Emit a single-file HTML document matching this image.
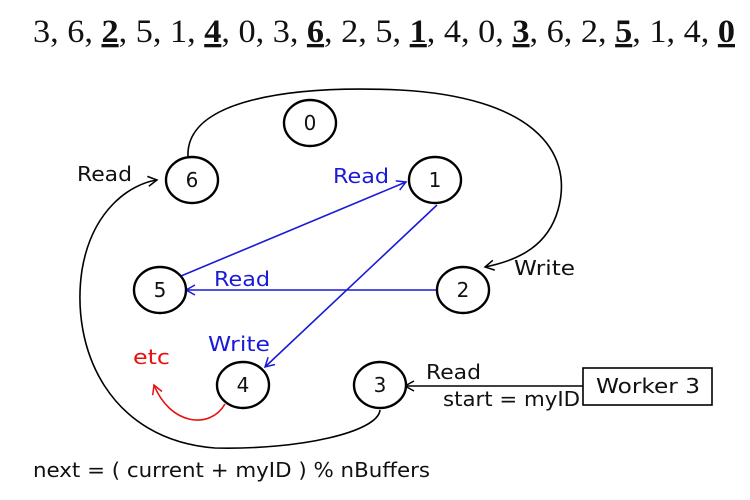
<!DOCTYPE html>
<html><head><style>body{margin:0;background:#fff}svg{display:block}</style></head><body>
<svg width="750" height="500" viewBox="0 0 750 500" xmlns="http://www.w3.org/2000/svg">
<rect width="750" height="500" fill="#fff"/>
<defs>
<marker id="ak" markerWidth="12" markerHeight="12" refX="10" refY="6" orient="auto" markerUnits="userSpaceOnUse"><path d="M1,1 L10,6 L1,11" fill="none" stroke="#000" stroke-width="1.5"/></marker>
<marker id="ab" markerWidth="12" markerHeight="12" refX="10" refY="6" orient="auto" markerUnits="userSpaceOnUse"><path d="M1,1 L10,6 L1,11" fill="none" stroke="#1a1ad8" stroke-width="1.5"/></marker>
<marker id="ar" markerWidth="12" markerHeight="12" refX="10" refY="6" orient="auto" markerUnits="userSpaceOnUse"><path d="M1,1 L10,6 L1,11" fill="none" stroke="#e81010" stroke-width="1.5"/></marker>
</defs>
<text x="33" y="42" font-family="Liberation Serif, serif" font-size="33" fill="#111" textLength="702" lengthAdjust="spacingAndGlyphs">3, 6, <tspan font-weight="bold" text-decoration="underline">2</tspan>, 5, 1, <tspan font-weight="bold" text-decoration="underline">4</tspan>, 0, 3, <tspan font-weight="bold" text-decoration="underline">6</tspan>, 2, 5, <tspan font-weight="bold" text-decoration="underline">1</tspan>, 4, 0, <tspan font-weight="bold" text-decoration="underline">3</tspan>, 6, 2, <tspan font-weight="bold" text-decoration="underline">5</tspan>, 1, 4, <tspan font-weight="bold" text-decoration="underline">0</tspan></text>
<g fill="none" stroke="#000" stroke-width="1.6">
<path d="M188,157 C185,100 290,85 400,90 C530,97 575,150 558,210 C548,245 520,260 485,267" marker-end="url(#ak)"/>
<path d="M380,410 C378,432 300,450 215,448 C110,440 70,350 82,270 C92,210 130,184 157,180" marker-end="url(#ak)"/>
<path d="M583,386 L405,386" marker-end="url(#ak)"/>
<rect x="583" y="368" width="129" height="37" fill="#fff"/>
</g>
<g fill="none" stroke="#1a1ad8" stroke-width="1.6">
<path d="M181,276 L406,182" marker-end="url(#ab)"/>
<path d="M437,290 L186,290" marker-end="url(#ab)"/>
<path d="M437,205 L265,367" marker-end="url(#ab)"/>
</g>
<path d="M225,404 C210,430 170,425 154,385" fill="none" stroke="#e81010" stroke-width="1.6" marker-end="url(#ar)"/>
<g fill="#fff" stroke="#000" stroke-width="2.4">
<ellipse cx="310" cy="123" rx="26" ry="23"/>
<ellipse cx="192" cy="180" rx="26" ry="23"/>
<ellipse cx="435" cy="180" rx="26" ry="23"/>
<ellipse cx="160" cy="290" rx="26" ry="23"/>
<ellipse cx="463" cy="290" rx="26" ry="23"/>
<ellipse cx="243" cy="385" rx="26" ry="23"/>
<ellipse cx="380" cy="385" rx="26" ry="23"/>
</g>
<g font-family="DejaVu Sans, sans-serif" font-size="20" text-anchor="middle" fill="#111">
<text x="310" y="130">0</text><text x="192" y="187">6</text><text x="435" y="187">1</text>
<text x="160" y="297">5</text><text x="463" y="297">2</text><text x="243" y="392">4</text><text x="380" y="392">3</text>
</g>
<g font-family="DejaVu Sans, sans-serif" font-size="20" lengthAdjust="spacingAndGlyphs">
<text x="77" y="181" fill="#111" textLength="55" lengthAdjust="spacingAndGlyphs">Read</text>
<text x="333" y="183" fill="#1a1ad8" textLength="56" lengthAdjust="spacingAndGlyphs">Read</text>
<text x="214" y="286" fill="#1a1ad8" textLength="56" lengthAdjust="spacingAndGlyphs">Read</text>
<text x="514" y="275" fill="#111" textLength="61" lengthAdjust="spacingAndGlyphs">Write</text>
<text x="208" y="351" fill="#1a1ad8" textLength="62" lengthAdjust="spacingAndGlyphs">Write</text>
<text x="133" y="364" fill="#e81010" textLength="37" lengthAdjust="spacingAndGlyphs">etc</text>
<text x="426" y="379" fill="#111" textLength="55" lengthAdjust="spacingAndGlyphs">Read</text>
<text x="443" y="406" fill="#111" textLength="137" lengthAdjust="spacingAndGlyphs">start = myID</text>
<text x="596" y="393" fill="#111" textLength="104" lengthAdjust="spacingAndGlyphs">Worker 3</text>
<text x="33" y="477" fill="#111" textLength="397" lengthAdjust="spacingAndGlyphs">next = ( current + myID ) % nBuffers</text>
</g>
</svg>
</body></html>
